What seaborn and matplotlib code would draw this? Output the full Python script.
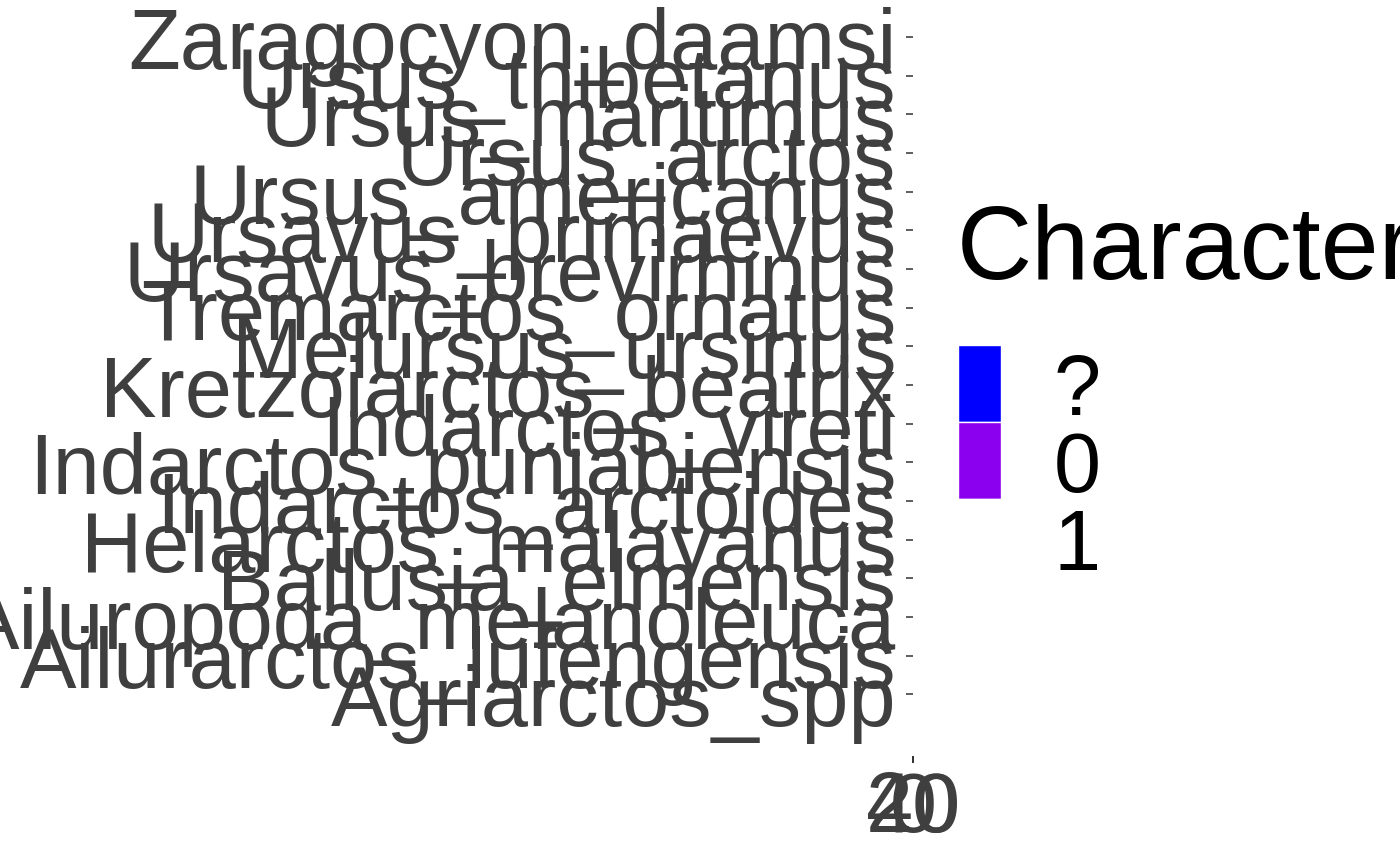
import pandas as pd
import matplotlib
matplotlib.use('Agg')
import matplotlib.pyplot as plt
import matplotlib.transforms as mtransforms
import seaborn as sns
from matplotlib.colors import ListedColormap
from matplotlib.patches import Rectangle

# taxa, top row first
species = [
    'Zaragocyon_daamsi', 'Ursus_thibetanus', 'Ursus_maritimus', 'Ursus_arctos',
    'Ursus_americanus', 'Ursavus_primaevus', 'Ursavus_brevirhinus',
    'Tremarctos_ornatus', 'Melursus_ursinus', 'Kretzoiarctos_beatrix',
    'Indarctos_vireti', 'Indarctos_punjabiensis', 'Indarctos_arctoides',
    'Helarctos_malayanus', 'Ballusia_elmensis', 'Ailuropoda_melanoleuca',
    'Ailurarctos_lufengensis', 'Agriarctos_spp',
]

# character states per taxon (character 1..41)
char_states = [
    '0?0??00?0??0?00??0?0?0??00?0??0?0?0??00?0',
    '11010011010110101101001101011010110011010',
    '11010011010110101101001101011010110011011',
    '11010011010110101101001101011010110011010',
    '11010011010110101101001101011010110011010',
    '00?0??0000?0?0??00?00?0??0000?00??0?0000?',
    '00?0??0000?0?0??00?00?0??0000?00??0?0000?',
    '10010011010110001101001100011010110011010',
    '11010011010110101101001101011010110011010',
    '1?01??1?0?01?1?11?01?1?0?01?1?1?0?101??0?',
    '1?1??1?0??1?1??0?1??1?0??1?1?0??1?1??0?1?',
    '10110?1001101?0110?1011010?1101001?01101?',
    '10110?1001101?0110?1011010?1101001?011010',
    '11010011010110101101001101011010110011010',
    '0?0??0?0??0?0??0?0??0?0??0?0??0?0??0?0??0',
    '11111011011110111101111011011110111101111',
    '1?11??1?0??1?1??11??1?0??1?1??1?0??1?1??1',
    '1?1??1?1??1?1??1?1??1?1??1?1??1?1??1?1??1',
]

state_levels = ['?', '0', '1']
state_colors = ['#0000FF', '#8B00EE', '#FFFFFF']
x_ticks = [0, 20, 40]
legend_title = 'Character'

sns.set_style('white')
plt.rcParams['font.family'] = ['Liberation Sans', 'DejaVu Sans']

matrix = pd.DataFrame(
    [[state_levels.index(c) for c in s] for s in char_states],
    index=species,
    columns=range(1, len(char_states[0]) + 1),
)

W, H = 1400, 865
fig = plt.figure(figsize=(14, 8.65), dpi=100)
# the panel is squeezed to (almost) zero width, like the original
ax = fig.add_axes([913 / W, 1 - 756 / H, 1e-5, 742 / H])

sns.heatmap(matrix, cmap=ListedColormap(state_colors), vmin=-0.5, vmax=2.5,
            cbar=False, ax=ax)

ax.set_ylim(19.1, -0.1)
ax.set_xlim(-2.5, 43.5)
ax.set_yticks([i + 0.5 for i in range(len(species))], labels=species, rotation=0)
ax.set_xticks([t - 0.5 for t in x_ticks], labels=[str(t) for t in x_ticks], rotation=0)
ax.set_xlabel('')
ax.set_ylabel('')
for sp in ax.spines.values():
    sp.set_visible(False)

ax.tick_params(axis='both', left=True, bottom=True, length=5, width=1.1,
               color='#333333', labelsize=61, labelcolor='#3f3f3f')
ax.tick_params(axis='y', pad=7)
ax.tick_params(axis='x', pad=5)

# put label baselines a bit below the tick, as in ggplot
shift = mtransforms.ScaledTranslation(0, -32 / 100, fig.dpi_scale_trans)
for lab in ax.get_yticklabels():
    lab.set_va('baseline')
    lab.set_transform(lab.get_transform() + shift)

# legend drawn by hand (tall ggplot-style keys)
fig.text(957 / W, 1 - 279 / H, legend_title, fontsize=75, color='black',
         ha='left', va='baseline')
key_top, key_h, key_w, key_x = 345, 77, 43, 958
for i, (lab, col) in enumerate(zip(state_levels, state_colors)):
    top = key_top + i * key_h
    fig.add_artist(Rectangle((key_x / W, 1 - (top + key_h) / H), key_w / W, key_h / H,
                             transform=fig.transFigure, facecolor=col,
                             edgecolor='white', linewidth=1))
    fig.text(1054 / W, 1 - (top + key_h / 2 + 32) / H, lab, fontsize=61,
             color='black', ha='left', va='baseline')

fig.savefig('out.png', dpi=100)
